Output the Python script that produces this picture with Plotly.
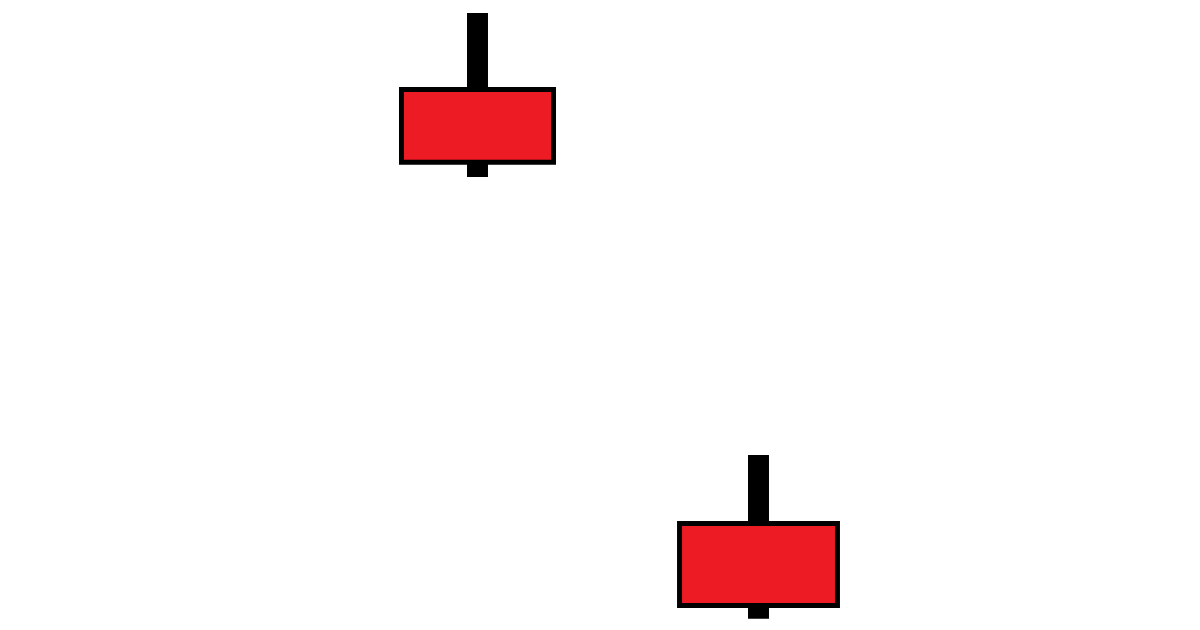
import plotly.graph_objects as go

# two bearish sessions (open above close)
sessions = [1, 2]
open_px = [54.05, 10.65]
high_px = [61.7, 17.5]
low_px = [45.3, 1.13]
close_px = [46.78, 2.45]

BODY_RED = "#ED1C24"

fig = go.Figure()

# wicks: thick black bars running from low to high
fig.add_trace(
    go.Bar(
        x=sessions,
        y=[h - l for h, l in zip(high_px, low_px)],
        base=low_px,
        width=[0.0747, 0.0747],
        marker=dict(color="black", line=dict(width=0)),
        hoverinfo="skip",
        showlegend=False,
    )
)

# bodies: red boxes with a black outline from close to open
fig.add_trace(
    go.Bar(
        x=sessions,
        y=[o - c for o, c in zip(open_px, close_px)],
        base=close_px,
        width=[0.541, 0.562],
        marker=dict(color=BODY_RED, line=dict(color="black", width=5)),
        customdata=list(zip(open_px, high_px, low_px, close_px)),
        hovertemplate="O %{customdata[0]}<br>H %{customdata[1]}"
        "<br>L %{customdata[2]}<br>C %{customdata[3]}<extra></extra>",
        showlegend=False,
    )
)

fig.update_layout(
    width=1200,
    height=630,
    margin=dict(l=0, r=0, t=0, b=0),
    barmode="overlay",
    plot_bgcolor="white",
    paper_bgcolor="white",
    xaxis=dict(range=[-0.6993, 3.5712], visible=False),
    yaxis=dict(range=[0, 63], visible=False),
)

# drop the browser's default page margin so the figure sits at the corner
fig.write_html(
    "out.html",
    config={"displayModeBar": False},
    post_script="document.body.style.margin = '0';",
)
